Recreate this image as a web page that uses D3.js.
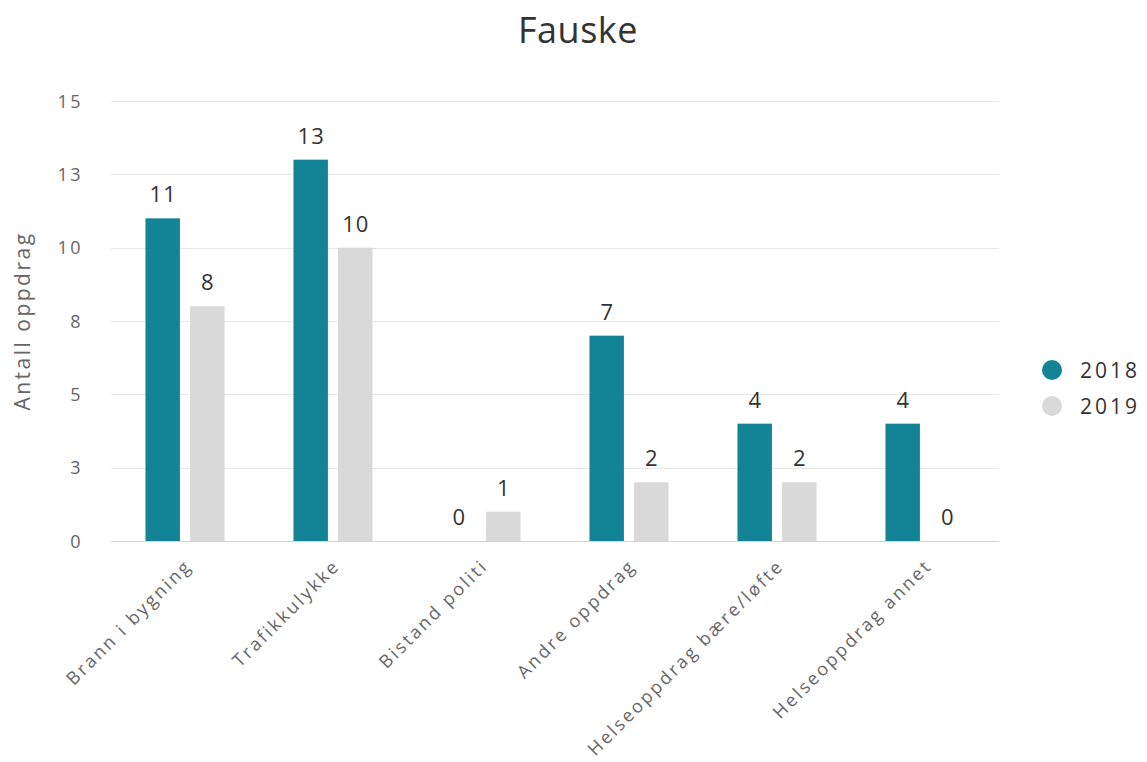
<!DOCTYPE html>
<meta charset="utf-8">
<style>
body { margin: 0; background: #fff; }
svg { font-family: "Open Sans", sans-serif; }
.grid line { stroke: #e6e6e6; }
.axis text { fill: #666; font-size: 18px; letter-spacing: 2.5px; font-family: "Open Sans", sans-serif; }
.value { fill: #333; font-size: 22px; letter-spacing: 1px; text-anchor: middle; }
</style>
<body>
<div id="chart"></div>
<script src="https://d3js.org/d3.v7.min.js"></script>
<script>
var categories = ["Brann i bygning", "Trafikkulykke", "Bistand politi", "Andre oppdrag", "Helseoppdrag bære/løfte", "Helseoppdrag annet"];
var seriesNames = ["2018", "2019"];
var values2018 = [11, 13, 0, 7, 4, 4];
var values2019 = [8, 10, 1, 2, 2, 0];
var colors = ["#138496", "#d9d9d9"];
var yTicks = [0, 2.5, 5, 7.5, 10, 12.5, 15];
var yTickLabels = ["0", "3", "5", "8", "10", "13", "15"];

var W = 1147, H = 762,
    plotLeft = 111, plotRight = 999, plotTop = 101, plotBottom = 541;

var svg = d3.select("#chart").append("svg")
    .attr("width", W).attr("height", H);

var x = d3.scaleBand().domain(categories).range([plotLeft, plotRight]);
var x1 = d3.scaleBand().domain(seriesNames)
    .range([x.bandwidth() / 2 - 44, x.bandwidth() / 2 + 44])
    .paddingInner(0.227).paddingOuter(0.1);
var y = d3.scaleLinear().domain([0, 15]).range([plotBottom, plotTop]);

// gridlines
svg.append("g").attr("class", "grid")
  .selectAll("line").data(yTicks.slice(1)).enter().append("line")
    .attr("x1", plotLeft).attr("x2", plotRight)
    .attr("y1", function(d) { return Math.round(y(d)) + 0.5; })
    .attr("y2", function(d) { return Math.round(y(d)) + 0.5; });

// y axis labels
var yAxis = d3.axisLeft(y).tickValues(yTicks)
    .tickFormat(function(d, i) { return yTickLabels[i]; })
    .tickSize(0).tickPadding(0);
var yg = svg.append("g").attr("class", "axis")
    .attr("transform", "translate(83,0)").call(yAxis);
yg.select(".domain").remove();
yg.selectAll("text").attr("dy", "0.35em");

svg.append("text")
    .attr("transform", "translate(30," + ((plotTop + plotBottom) / 2) + ") rotate(-90)")
    .attr("text-anchor", "middle")
    .style("fill", "#666").style("font-size", "21px").style("letter-spacing", "2.5px")
    .text("Antall oppdrag");

// bars
var data = categories.map(function(c, i) {
  return { cat: c, vals: [ {k: "2018", v: values2018[i]}, {k: "2019", v: values2019[i]} ] };
});

var groups = svg.selectAll(".grp").data(data).enter().append("g")
    .attr("transform", function(d) { return "translate(" + x(d.cat) + ",0)"; });

groups.selectAll("rect").data(function(d) { return d.vals; }).enter().append("rect")
    .attr("x", function(d) { return x1(d.k); })
    .attr("width", x1.bandwidth())
    .attr("y", function(d) { return y(d.v); })
    .attr("height", function(d) { return y(0) - y(d.v); })
    .attr("fill", function(d, i) { return colors[i]; });

groups.selectAll(".value").data(function(d) { return d.vals; }).enter().append("text")
    .attr("class", "value")
    .attr("x", function(d) { return x1(d.k) + x1.bandwidth() / 2 + 0.5; })
    .attr("y", function(d) { return y(d.v) - 16; })
    .text(function(d) { return d.v; });

// x axis
svg.append("line")
    .attr("x1", plotLeft).attr("x2", plotRight)
    .attr("y1", plotBottom + 0.5).attr("y2", plotBottom + 0.5)
    .attr("stroke", "#ccd6eb");

var xg = svg.append("g").attr("class", "axis")
    .attr("transform", "translate(0," + plotBottom + ")")
    .call(d3.axisBottom(x).tickSize(0).tickPadding(0));
xg.select(".domain").remove();
xg.selectAll("text")
    .attr("text-anchor", "end")
    .attr("dy", null)
    .attr("transform", "translate(8,26) rotate(-45)");

// title
svg.append("text")
    .attr("x", 578).attr("y", 43)
    .attr("text-anchor", "middle")
    .style("fill", "#333").style("font-size", "36px").style("letter-spacing", "0.5px")
    .text("Fauske");

// legend
var legend = svg.selectAll(".legend").data(seriesNames).enter().append("g")
    .attr("transform", function(d, i) { return "translate(1052," + (370 + i * 36) + ")"; });
legend.append("circle").attr("r", 10).attr("fill", function(d, i) { return colors[i]; });
legend.append("text").attr("x", 28).attr("dy", "0.36em")
    .style("fill", "#333").style("font-size", "21px").style("letter-spacing", "3px")
    .text(function(d) { return d; });
</script>
